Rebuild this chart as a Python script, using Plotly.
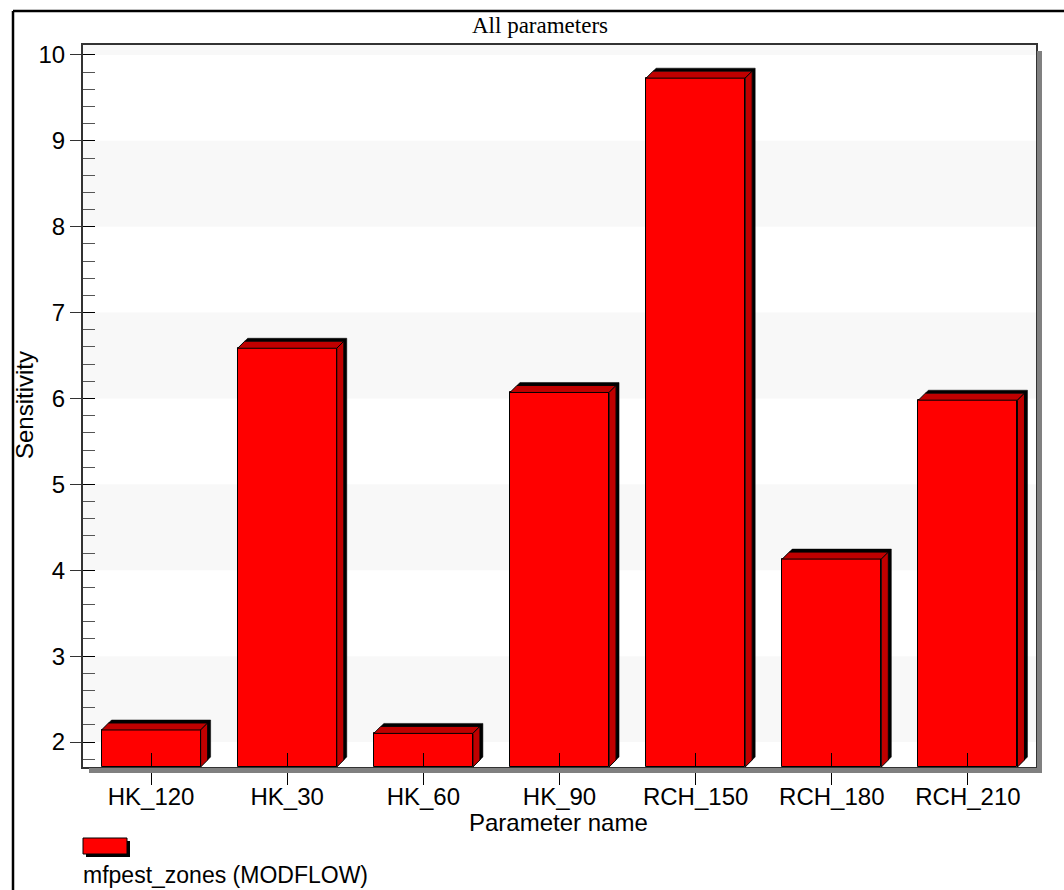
import plotly.graph_objects as go

# ---------------- data ----------------
categories = ["HK_120", "HK_30", "HK_60", "HK_90", "RCH_150", "RCH_180", "RCH_210"]
sensitivity = [2.14, 6.585, 2.10, 6.07, 9.73, 4.13, 5.98]
y_tick_values = [2, 3, 4, 5, 6, 7, 8, 9, 10]
series_name = "mfpest_zones (MODFLOW)"
title_text = "All parameters"
x_title = "Parameter name"
y_title = "Sensitivity"

# ---------------- geometry ----------------
W, H = 1064, 890
ML, MR, MT, MB = 83, 28, 45, 123
PW, PH = W - ML - MR, H - MT - MB
Y_MIN, Y_MAX = 1.709, 10.116
X_MIN, X_MAX = -0.5, len(categories) - 0.5
UX = PW / (X_MAX - X_MIN)          # pixels per x unit
UY = PH / (Y_MAX - Y_MIN)          # pixels per y unit
BAR_W = 0.728
DEPTH_PX = 7
SHADOW_PX = 3
DX, DY = DEPTH_PX / UX, DEPTH_PX / UY
SX, SY = SHADOW_PX / UX, SHADOW_PX / UY

FONT = "Liberation Sans, Arial, sans-serif"
SERIF = "Liberation Serif, Times New Roman, serif"
FS = 24
RED = "#ff0000"
DARK = "#c00000"


def pxx(px):
    return (px - ML) / PW


def pxy(py):
    return (H - MB - py) / PH


fig = go.Figure()

xs = list(range(len(categories)))

# front faces
fig.add_trace(go.Bar(
    x=xs, y=[v - Y_MIN for v in sensitivity], base=Y_MIN, width=BAR_W,
    marker=dict(color=RED, line=dict(color="black", width=1)),
    name=series_name, showlegend=False, hoverinfo="skip",
))

shadows, tops, sides = [], [], []
for xi, v in zip(xs, sensitivity):
    xl, xr = xi - BAR_W / 2, xi + BAR_W / 2
    yt, yb = v, Y_MIN
    shadows.append((
        [xl + DX, xl + DX + SX, xr + DX + SX, xr + DX + SX, xr + DX, xr + DX, xl + DX],
        [yt + DY, yt + DY + SY, yt + DY + SY, yb + DY + SY, yb + DY, yt + DY, yt + DY],
    ))
    tops.append((
        [xl, xl + DX, xr + DX, xr, xl],
        [yt, yt + DY, yt + DY, yt, yt],
    ))
    sides.append((
        [xr, xr + DX, xr + DX, xr, xr],
        [yt, yt + DY, yb + DY, yb, yt],
    ))

for px_, py_ in shadows:
    fig.add_trace(go.Scatter(x=px_, y=py_, mode="lines", fill="toself",
                             fillcolor="black", line=dict(color="black", width=0.5),
                             showlegend=False, hoverinfo="skip"))
for group in (tops, sides):
    for px_, py_ in group:
        fig.add_trace(go.Scatter(x=px_, y=py_, mode="lines", fill="toself",
                                 fillcolor=DARK, line=dict(color="black", width=1),
                                 showlegend=False, hoverinfo="skip"))

# dummy traces for overlay axes
fig.add_trace(go.Scatter(x=[], y=[], xaxis="x2", yaxis="y", showlegend=False))
fig.add_trace(go.Scatter(x=[], y=[], xaxis="x", yaxis="y2", showlegend=False))

shapes = []
# alternating background bands
band_edges = y_tick_values + [Y_MAX]
for i, lo in enumerate(y_tick_values):
    if i % 2 == 0:
        hi = band_edges[i + 1]
        shapes.append(dict(type="rect", xref="paper", yref="y", x0=0, x1=1, y0=lo, y1=hi,
                           fillcolor="#f8f8f8", line=dict(width=0), layer="below"))

# plot-area drop shadow
shapes.append(dict(type="rect", xref="paper", yref="paper",
                   x0=pxx(1037), x1=pxx(1042), y0=pxy(773), y1=pxy(51),
                   fillcolor="#808080", line=dict(width=0)))
shapes.append(dict(type="rect", xref="paper", yref="paper",
                   x0=pxx(89), x1=pxx(1042), y0=pxy(773), y1=pxy(768),
                   fillcolor="#808080", line=dict(width=0)))

# outer frame
shapes.append(dict(type="line", xref="paper", yref="paper",
                   x0=pxx(13), x1=pxx(13), y0=pxy(11), y1=pxy(900),
                   line=dict(color="black", width=2.5)))
shapes.append(dict(type="line", xref="paper", yref="paper",
                   x0=pxx(13), x1=pxx(1080), y0=pxy(11), y1=pxy(11),
                   line=dict(color="black", width=2.5)))

# custom legend swatch
shapes.append(dict(type="rect", xref="paper", yref="paper",
                   x0=pxx(86), x1=pxx(130), y0=pxy(857), y1=pxy(841),
                   fillcolor="black", line=dict(width=0)))
shapes.append(dict(type="rect", xref="paper", yref="paper",
                   x0=pxx(83), x1=pxx(127), y0=pxy(854), y1=pxy(838),
                   fillcolor=RED, line=dict(color="black", width=1)))

annotations = [
    dict(text=title_text, xref="paper", yref="paper", x=pxx(540), y=pxy(26),
         xanchor="center", yanchor="middle", showarrow=False,
         font=dict(family=SERIF, size=23, color="black")),
    dict(text=y_title, xref="paper", yref="paper", x=pxx(24), y=pxy(405),
         xanchor="center", yanchor="middle", showarrow=False, textangle=-90,
         font=dict(family=FONT, size=FS, color="black")),
    dict(text=x_title, xref="paper", yref="paper", x=pxx(558), y=pxy(822),
         xanchor="center", yanchor="middle", showarrow=False,
         font=dict(family=FONT, size=FS, color="black")),
    dict(text=series_name, xref="paper", yref="paper", x=pxx(81), y=pxy(875),
         xanchor="left", yanchor="middle", showarrow=False,
         font=dict(family=FONT, size=23, color="black")),
]

fig.update_layout(
    width=W, height=H,
    margin=dict(l=ML, r=MR, t=MT, b=MB, pad=0),
    paper_bgcolor="white", plot_bgcolor="white",
    showlegend=False, bargap=0,
    shapes=shapes, annotations=annotations,
    font=dict(family=FONT, size=FS, color="black"),
    xaxis=dict(range=[X_MIN, X_MAX], tickmode="array", tickvals=xs, ticktext=categories,
               ticks="outside", ticklen=16, tickwidth=1, tickcolor="black",
               ticklabelstandoff=-9,
               showline=True, linecolor="#333333", linewidth=2, mirror=True,
               showgrid=False, zeroline=False, tickfont=dict(size=FS, family=FONT),
               fixedrange=True),
    xaxis2=dict(range=[X_MIN, X_MAX], overlaying="x", anchor="y", side="bottom",
                tickmode="array", tickvals=xs, ticks="inside", ticklen=14, tickwidth=1,
                tickcolor="black", showticklabels=False, showline=False, showgrid=False,
                zeroline=False, fixedrange=True),
    yaxis=dict(range=[Y_MIN, Y_MAX], tickmode="array", tickvals=y_tick_values,
               ticks="outside", ticklen=11, tickwidth=1, tickcolor="#333333",
               showline=True, linecolor="#333333", linewidth=2, mirror=True,
               showgrid=False, zeroline=False, tickfont=dict(size=FS, family=FONT),
               fixedrange=True),
    yaxis2=dict(range=[Y_MIN, Y_MAX], overlaying="y", anchor="x", side="left",
                tickmode="array", tickvals=y_tick_values, ticks="inside", ticklen=12,
                tickwidth=1, tickcolor="black", showticklabels=False,
                minor=dict(dtick=0.2, tick0=0, ticks="inside", ticklen=12, tickwidth=1,
                           tickcolor="#555555"),
                showline=False, showgrid=False, zeroline=False, fixedrange=True),
)

fig.write_html("out.html", config={"displayModeBar": False},
               post_script="document.body.style.margin='0';document.body.style.overflow='hidden';")
